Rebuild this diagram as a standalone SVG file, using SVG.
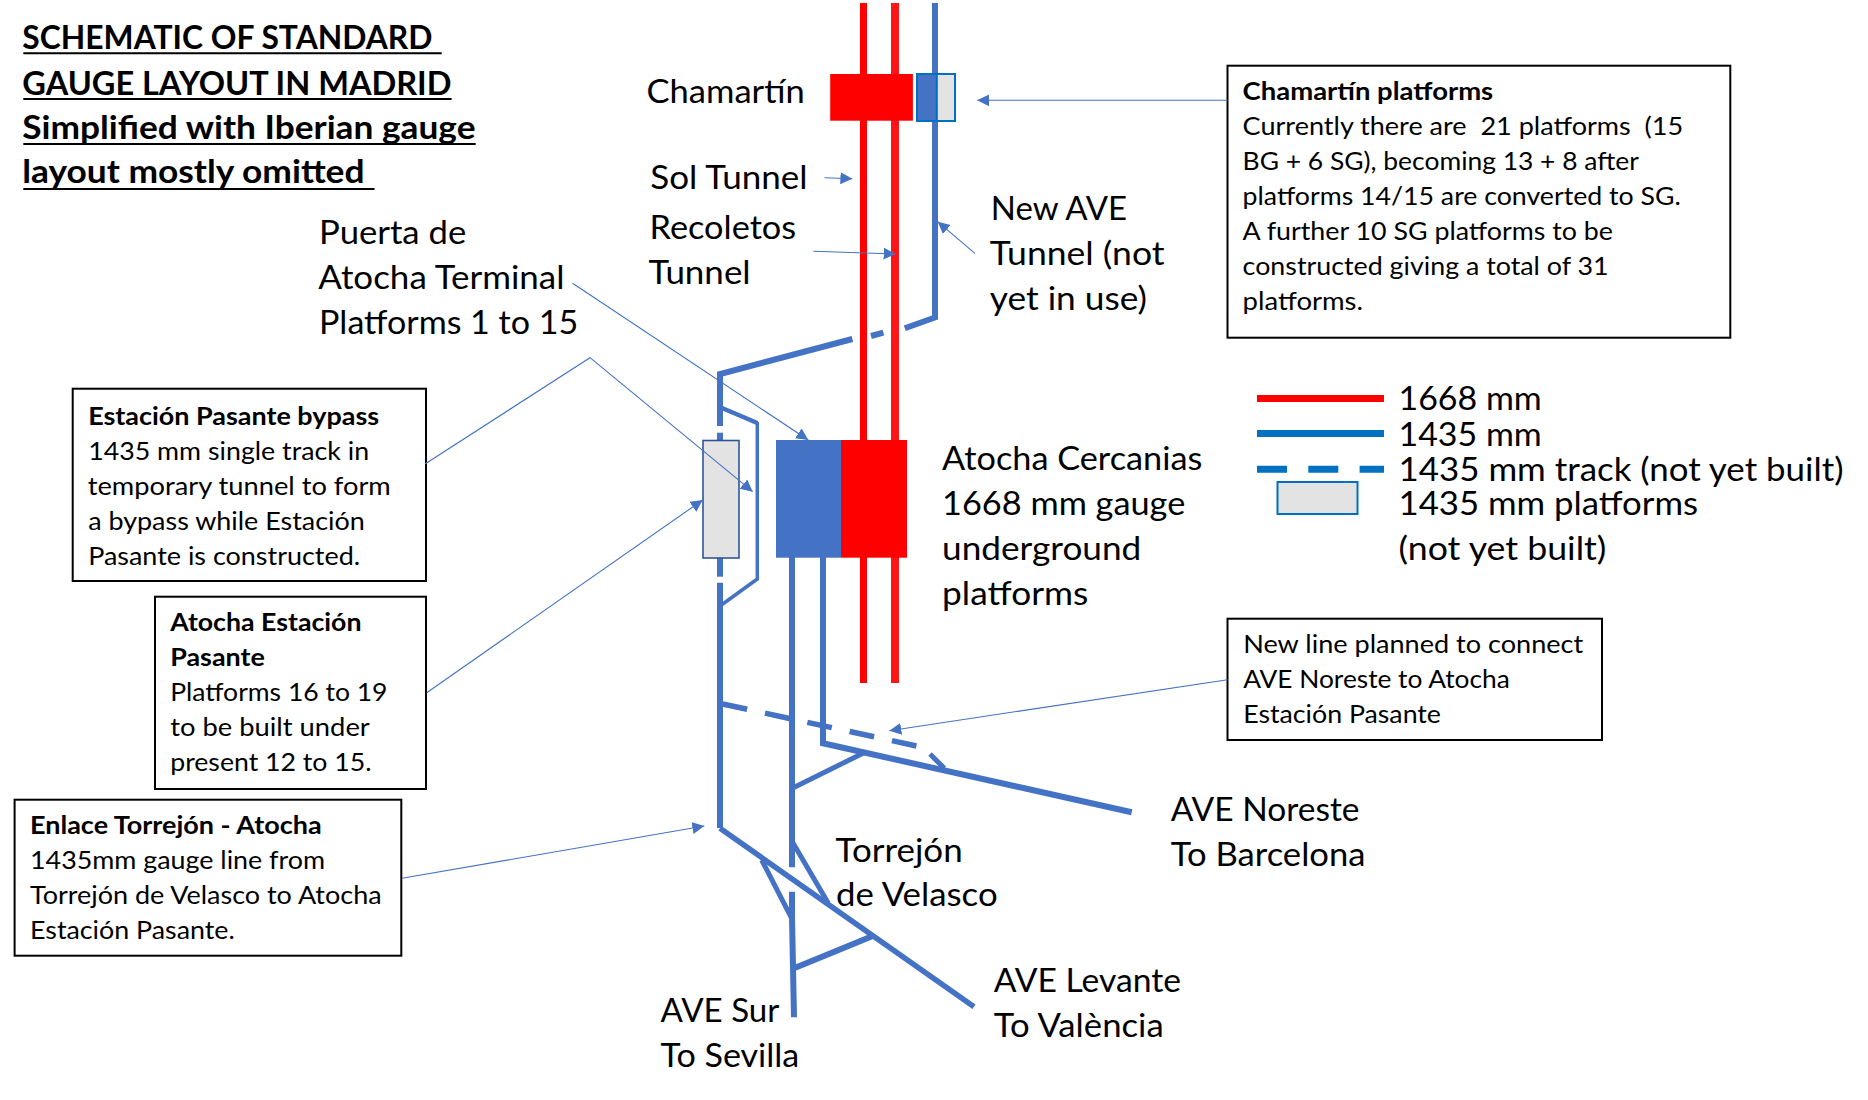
<svg xmlns="http://www.w3.org/2000/svg" width="1868" height="1100" viewBox="0 0 1868 1100">
<style>
text{font-family:"Lato","Carlito","Noto Sans",sans-serif;fill:#000;font-weight:400}
.big{font-size:32.5px}
.mid{font-size:25.5px}
.ttl{font-size:32.5px;font-weight:700}
.hd{font-size:25.5px;font-weight:700}
.box{fill:#fff;stroke:#000;stroke-width:2}
.plat{fill:#E3E3E3;stroke:#0070C0;stroke-width:2}
.trk{fill:none;stroke:#4472C4;stroke-width:6}
.thin{fill:none;stroke:#4472C4;stroke-width:1.1;marker-end:url(#ah)}
.ul{stroke:#000;stroke-width:2}
</style>
<defs>
<marker id="ah" markerUnits="userSpaceOnUse" markerWidth="14" markerHeight="14" refX="12" refY="6" orient="auto"><path d="M0,0L12,6L0,12Z" fill="#4472C4"/></marker>
</defs>
<rect width="1868" height="1100" fill="#fff"/>

<g id="tracks-red">
<line x1="863.5" y1="3" x2="863.5" y2="683" stroke="#FF0000" stroke-width="7"/>
<line x1="895" y1="3" x2="895" y2="683" stroke="#FF1518" stroke-width="8"/>
</g>

<g id="connectors">
<path class="trk" d="M935,3V317.5L904.8,328.3"/>
<path class="trk" d="M883.4,332.7L871,336"/>
<path class="trk" d="M852.4,339L720,374V426"/>
<path class="trk" d="M720,432.7V440"/>
<path class="trk" d="M720,558V576.7"/>
<path class="trk" d="M720,582.7V828"/>
<path class="trk" style="stroke-width:4.5" d="M722,408L757.3,423"/>
<path class="trk" style="stroke-width:3.5" d="M757.3,422V579L720,606"/>
<path class="trk" d="M792,557V867.3"/>
<path class="trk" d="M823,557V743.3L1131.7,812.3"/>
<path class="trk" style="stroke-width:5" d="M792.3,788.3L864,752.7"/>
<path class="trk" style="stroke-width:5" d="M930,754L944.3,768.3"/>
<path class="trk" style="stroke-width:5.5;stroke-dasharray:25 18.3" d="M722.7,704L916.7,746"/>
<path class="trk" style="stroke-width:5.5" d="M720,828.3L974,1006.7"/>
<path class="trk" style="stroke-width:5" d="M792.3,841.7L828.3,903.3"/>
<path class="trk" style="stroke-width:5" d="M761.7,860L791.7,918.3"/>
<path class="trk" d="M792,891.7V916.7L794,1017.3"/>
<path class="trk" d="M794,968.3L873.3,935.7"/>
</g>

<g id="node-chamartin">
<rect x="830.2" y="74" width="82.7" height="46.7" fill="#FF0000"/>
<rect x="917" y="74" width="20" height="47" fill="#4472C4"/>
<rect x="937" y="74" width="18" height="47" fill="#E3E3E3"/>
<rect x="917" y="74" width="38" height="47" fill="none" stroke="#0070C0" stroke-width="2"/>
<line x1="936.8" y1="74" x2="936.8" y2="121" stroke="#0070C0" stroke-width="2"/>
<text class="big" x="646.5" y="103.3" textLength="158.2" lengthAdjust="spacingAndGlyphs">Chamartín</text>
</g>

<g id="node-atocha-cercanias">
<rect x="776" y="440" width="65" height="117.7" fill="#4472C4"/>
<rect x="841" y="440" width="66" height="117.7" fill="#FF0000"/>
<text class="big" x="942.1" y="470" textLength="260.2" lengthAdjust="spacingAndGlyphs">Atocha Cercanias</text>
<text class="big" x="942.1" y="515" textLength="243.2" lengthAdjust="spacingAndGlyphs">1668 mm gauge</text>
<text class="big" x="942.1" y="560" textLength="199.2" lengthAdjust="spacingAndGlyphs">underground</text>
<text class="big" x="942.1" y="605" textLength="146.2" lengthAdjust="spacingAndGlyphs">platforms</text>
</g>

<g id="node-pasante-platform">
<rect x="703" y="440.5" width="36" height="117.5" fill="#E3E3E3" stroke="#2F5597" stroke-width="1.6"/>
</g>

<g id="node-title">
<text class="ttl" x="22.3" y="49" textLength="410.2" lengthAdjust="spacingAndGlyphs">SCHEMATIC OF STANDARD</text>
<line class="ul" x1="23.3" y1="53.3" x2="441.7" y2="53.3"/>
<text class="ttl" x="22.3" y="95" textLength="429.2" lengthAdjust="spacingAndGlyphs">GAUGE LAYOUT IN MADRID</text>
<line class="ul" x1="23.3" y1="99" x2="451.6" y2="99"/>
<text class="ttl" x="22.3" y="139" textLength="453.2" lengthAdjust="spacingAndGlyphs">Simplified with Iberian gauge</text>
<line class="ul" x1="23.3" y1="144" x2="475.7" y2="144"/>
<text class="ttl" x="22.3" y="183.3" textLength="342.2" lengthAdjust="spacingAndGlyphs">layout mostly omitted</text>
<line class="ul" x1="23.3" y1="189" x2="374.5" y2="189"/>
</g>

<g id="label-sol"><text class="big" x="650.3" y="189" textLength="157.2" lengthAdjust="spacingAndGlyphs">Sol Tunnel</text></g>
<g id="label-recoletos">
<text class="big" x="649.5" y="239.3" textLength="146.7" lengthAdjust="spacingAndGlyphs">Recoletos</text>
<text class="big" x="648.4" y="284.3" textLength="102.2" lengthAdjust="spacingAndGlyphs">Tunnel</text>
</g>
<g id="label-new-ave">
<text class="big" x="990.8" y="219.6" textLength="136.2" lengthAdjust="spacingAndGlyphs">New AVE</text>
<text class="big" x="989.8" y="264.6" textLength="174.7" lengthAdjust="spacingAndGlyphs">Tunnel (not</text>
<text class="big" x="989.8" y="309.6" textLength="157.2" lengthAdjust="spacingAndGlyphs">yet in use)</text>
</g>
<g id="label-puerta">
<text class="big" x="319" y="244" textLength="147.2" lengthAdjust="spacingAndGlyphs">Puerta de</text>
<text class="big" x="318.3" y="289" textLength="246.2" lengthAdjust="spacingAndGlyphs">Atocha Terminal</text>
<text class="big" x="319" y="334" textLength="259.2" lengthAdjust="spacingAndGlyphs">Platforms 1 to 15</text>
</g>
<g id="label-noreste">
<text class="big" x="1170.7" y="821.3" textLength="188.8" lengthAdjust="spacingAndGlyphs">AVE Noreste</text>
<text class="big" x="1170.7" y="866.3" textLength="194.8" lengthAdjust="spacingAndGlyphs">To Barcelona</text>
</g>
<g id="label-torrejon">
<text class="big" x="835.5" y="862.3" textLength="127.2" lengthAdjust="spacingAndGlyphs">Torrejón</text>
<text class="big" x="836.1" y="906.3" textLength="161.6" lengthAdjust="spacingAndGlyphs">de Velasco</text>
</g>
<g id="label-levante">
<text class="big" x="993.8" y="992" textLength="187.2" lengthAdjust="spacingAndGlyphs">AVE Levante</text>
<text class="big" x="993.8" y="1036.6" textLength="169.9" lengthAdjust="spacingAndGlyphs">To València</text>
</g>
<g id="label-sur">
<text class="big" x="660.5" y="1022.3" textLength="118.8" lengthAdjust="spacingAndGlyphs">AVE Sur</text>
<text class="big" x="660.5" y="1066.6" textLength="138.8" lengthAdjust="spacingAndGlyphs">To Sevilla</text>
</g>

<g id="legend">
<line x1="1257" y1="398.5" x2="1384" y2="398.5" stroke="#FF0000" stroke-width="7"/>
<line x1="1257" y1="433.5" x2="1384" y2="433.5" stroke="#0070C0" stroke-width="7"/>
<line x1="1257" y1="469.3" x2="1384" y2="469.3" stroke="#0070C0" stroke-width="7" stroke-dasharray="30 21.3"/>
<rect class="plat" x="1277.5" y="482" width="80" height="32"/>
<text class="big" x="1398.5" y="410" textLength="143.2" lengthAdjust="spacingAndGlyphs">1668 mm</text>
<text class="big" x="1398.5" y="446.3" textLength="143.2" lengthAdjust="spacingAndGlyphs">1435 mm</text>
<text class="big" x="1398.5" y="481.3" textLength="445" lengthAdjust="spacingAndGlyphs">1435 mm track (not yet built)</text>
<text class="big" x="1398.5" y="515" textLength="299.5" lengthAdjust="spacingAndGlyphs">1435 mm platforms</text>
<text class="big" x="1398.5" y="560" textLength="207.9" lengthAdjust="spacingAndGlyphs">(not yet built)</text>
</g>

<g id="box-chamartin">
<rect class="box" x="1227.5" y="65.7" width="502.8" height="272"/>
<text class="hd" x="1242.6" y="99.6" textLength="250.6" lengthAdjust="spacingAndGlyphs">Chamartín platforms</text>
<text class="mid" x="1242.6" y="134.6" textLength="440.6" lengthAdjust="spacingAndGlyphs" xml:space="preserve">Currently there are  21 platforms  (15</text>
<text class="mid" x="1242.6" y="169.6" textLength="396.2" lengthAdjust="spacingAndGlyphs">BG + 6 SG), becoming 13 + 8 after</text>
<text class="mid" x="1242.6" y="204.6" textLength="438.2" lengthAdjust="spacingAndGlyphs">platforms 14/15 are converted to SG.</text>
<text class="mid" x="1242.6" y="239.6" textLength="370.4" lengthAdjust="spacingAndGlyphs">A further 10 SG platforms to be</text>
<text class="mid" x="1242.6" y="274.6" textLength="365.9" lengthAdjust="spacingAndGlyphs">constructed giving a total of 31</text>
<text class="mid" x="1242.6" y="309.6" textLength="120.4" lengthAdjust="spacingAndGlyphs">platforms.</text>
</g>

<g id="box-new-line">
<rect class="box" x="1227.5" y="618.7" width="374.5" height="121.3"/>
<text class="mid" x="1243.2" y="653.2" textLength="340" lengthAdjust="spacingAndGlyphs">New line planned to connect</text>
<text class="mid" x="1243.2" y="688.2" textLength="266.6" lengthAdjust="spacingAndGlyphs">AVE Noreste to Atocha</text>
<text class="mid" x="1243.2" y="723.2" textLength="197.8" lengthAdjust="spacingAndGlyphs">Estación Pasante</text>
</g>

<g id="box-bypass">
<rect class="box" x="72.7" y="388.7" width="353.3" height="192.3"/>
<text class="hd" x="88.2" y="424.5" textLength="290.9" lengthAdjust="spacingAndGlyphs">Estación Pasante bypass</text>
<text class="mid" x="88.2" y="459.5" textLength="280.9" lengthAdjust="spacingAndGlyphs">1435 mm single track in</text>
<text class="mid" x="87.7" y="494.5" textLength="303.1" lengthAdjust="spacingAndGlyphs">temporary tunnel to form</text>
<text class="mid" x="88.2" y="529.5" textLength="276.6" lengthAdjust="spacingAndGlyphs">a bypass while Estación</text>
<text class="mid" x="88.2" y="564.5" textLength="271.9" lengthAdjust="spacingAndGlyphs">Pasante is constructed.</text>
</g>

<g id="box-pasante">
<rect class="box" x="155" y="596.7" width="271" height="192.3"/>
<text class="hd" x="170.2" y="631.2" textLength="191.3" lengthAdjust="spacingAndGlyphs">Atocha Estación</text>
<text class="hd" x="170.2" y="666.2" textLength="94.6" lengthAdjust="spacingAndGlyphs">Pasante</text>
<text class="mid" x="170.2" y="701.2" textLength="217.3" lengthAdjust="spacingAndGlyphs">Platforms 16 to 19</text>
<text class="mid" x="170.2" y="736.2" textLength="199.6" lengthAdjust="spacingAndGlyphs">to be built under</text>
<text class="mid" x="170.2" y="771.2" textLength="201.3" lengthAdjust="spacingAndGlyphs">present 12 to 15.</text>
</g>

<g id="box-enlace">
<rect class="box" x="14.6" y="799.7" width="386.7" height="156"/>
<text class="hd" x="30" y="833.8" textLength="291.6" lengthAdjust="spacingAndGlyphs">Enlace Torrejón - Atocha</text>
<text class="mid" x="30" y="869.2" textLength="295" lengthAdjust="spacingAndGlyphs">1435mm gauge line from</text>
<text class="mid" x="30" y="904.2" textLength="351.6" lengthAdjust="spacingAndGlyphs">Torrejón de Velasco to Atocha</text>
<text class="mid" x="30" y="939.2" textLength="204.8" lengthAdjust="spacingAndGlyphs">Estación Pasante.</text>
</g>

<g id="callouts">
<line class="thin" x1="1227.5" y1="100.3" x2="977.2" y2="100.3"/>
<line class="thin" x1="824.5" y1="177.7" x2="852.4" y2="178.7"/>
<line class="thin" x1="813.4" y1="251.3" x2="895.6" y2="254"/>
<line class="thin" x1="974.9" y1="253.3" x2="937.7" y2="221.7"/>
<line class="thin" x1="572.6" y1="283.3" x2="808.3" y2="440"/>
<path class="thin" d="M425,464L590,357.7L752.7,491.7"/>
<line class="thin" x1="426.7" y1="692.7" x2="702.7" y2="500"/>
<line class="thin" x1="402" y1="878.3" x2="704.3" y2="826"/>
<line class="thin" x1="1227.5" y1="679.7" x2="889.3" y2="730.7"/>
</g>
</svg>
